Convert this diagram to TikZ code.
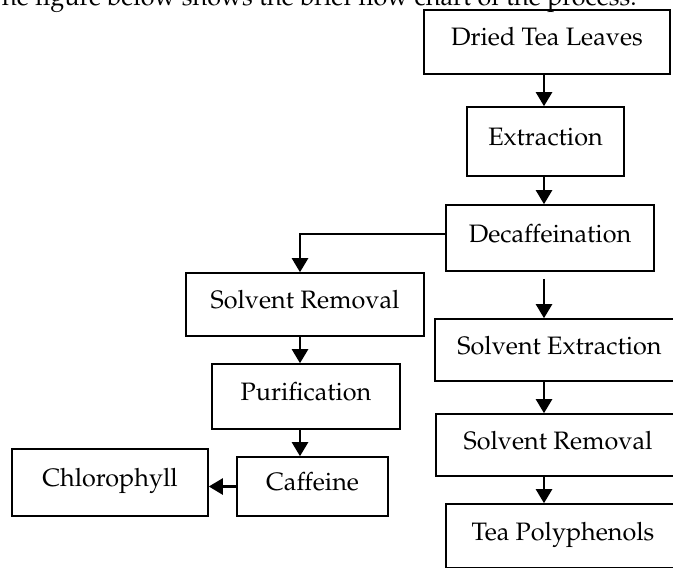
\documentclass[tikz,border=0pt]{standalone}
\usepackage[T1]{fontenc}
\usepackage{mathpazo}
\usetikzlibrary{arrows.meta,positioning}

\tikzset{
    stage/.style={draw, line width=0.8pt, inner sep=0pt, align=center, text height=9pt, text depth=5pt, font=\fontsize{12.6}{15}\selectfont},
    flow/.style={line width=1.2pt, -{Triangle[length=7pt,width=8pt]}}
}

\begin{document}
\begin{tikzpicture}[x=0.5pt, y=-0.5pt]
\useasboundingbox (0,0) rectangle (673,567);
\clip (0,0) rectangle (673,567);

% sentence above the chart, cut by the top edge
\node[anchor=base east, inner sep=0pt, font=\fontsize{12.6}{15}\selectfont] (caption) at (637,6) {The figure below shows the brief flow chart of the process.};

\node[stage, minimum width=123pt, minimum height=32pt] (dried) at (547,42) {Dried Tea Leaves};
\node[stage, minimum width=78.5pt, minimum height=34.5pt] (extract) at (545.5,141.5) {Extraction};
\node[stage, minimum width=104pt, minimum height=33pt] (decaf) at (550,238) {Decaffeination};
\node[stage, minimum width=119pt, minimum height=31.5pt] (removeL) at (305,304.5) {Solvent Removal};
\node[stage, minimum width=94pt, minimum height=32.5pt] (purify) at (306,396.5) {Purification};
\node[stage, minimum width=75.5pt, minimum height=29.5pt] (caffeine) at (312.5,486.5) {Caffeine};
\node[stage, minimum width=98pt, minimum height=33.5pt] (chloro) at (110,482.5) {Chlorophyll};
\node[stage, minimum width=124.5pt, minimum height=31pt] (solvext) at (559.5,350) {Solvent Extraction};
\node[stage, minimum width=122pt, minimum height=31pt] (removeR) at (558,445) {Solvent Removal};
\node[stage, minimum width=117pt, minimum height=32pt] (poly) at (563,536) {Tea Polyphenols};

\coordinate (colR) at (544,0);
\coordinate (colL) at (300,0);

% main line
\draw[flow] (dried.south -| colR) -- (extract.north -| colR);
\draw[flow] (extract.south -| colR) -- (decaf.north -| colR);
\draw[flow, shorten <=3.5pt] (decaf.south -| colR) -- (solvext.north -| colR);
\draw[flow] (solvext.south -| colR) -- (removeR.north -| colR);
\draw[flow] (removeR.south -| colR) -- (poly.north -| colR);

% caffeine branch
\draw[flow] ([yshift=2pt]decaf.west) -| (removeL.north -| colL);
\draw[flow] (removeL.south -| colL) -- (purify.north -| colL);
\draw[flow] (purify.south -| colL) -- (caffeine.north -| colL);
\draw[flow] (caffeine.west) -- (caffeine.west -| chloro.east);
\end{tikzpicture}
\end{document}
